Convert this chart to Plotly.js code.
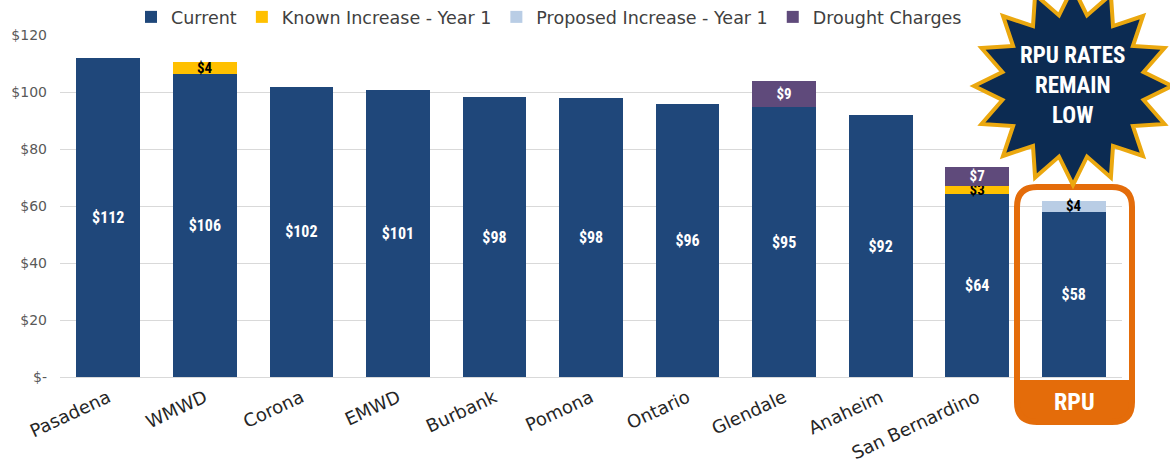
<!DOCTYPE html>
<html>
<head>
<meta charset="utf-8">
<script src="https://cdn.plot.ly/plotly-3.0.1.min.js"></script>
<style>
html,body{margin:0;padding:0;background:#fff;}
#chart{width:1170px;height:469px;}
</style>
</head>
<body>
<div id="chart"></div>
<script>
// ---- data ----
const categories = ["Pasadena","WMWD","Corona","EMWD","Burbank","Pomona","Ontario","Glendale","Anaheim","San Bernardino","RPU"];
const tickLabels = ["Pasadena","WMWD","Corona","EMWD","Burbank","Pomona","Ontario","Glendale","Anaheim","San Bernardino",""];
const current   = [112.0,106.4,101.8,100.7,98.2,97.9,95.8,94.6,91.9,64.2,57.9];
const knownInc  = [0,4.2,0,0,0,0,0,0,0,2.8,0];
const proposed  = [0,0,0,0,0,0,0,0,0,0,3.9];
const drought   = [0,0,0,0,0,0,0,9.3,0,6.8,0];
const yTickVals = [0,20,40,60,80,100,120];
const yTickText = ["$-","$20","$40","$60","$80","$100","$120"];

// ---- layout constants ----
const W = 1170, H = 469;
const M = {l:60, r:48, t:35, b:92, autoexpand:false};
const PW = W - M.l - M.r, PH = H - M.t - M.b;
const px2paperX = x => (x - M.l) / PW;
const px2paperY = y => (H - M.b - y) / PH;

const labelFont = "'Liberation Sans Narrow', 'Roboto Condensed', 'Liberation Sans', sans-serif";
const bodyFont = "'DejaVu Sans', 'Noto Sans', sans-serif";

function txt(arr){ return arr.map(v => v > 0 ? "$" + Math.round(v) : ""); }

function barTrace(name, vals, color, fontColor, size){
  return {
    type: "bar", name: name, x: categories, y: vals,
    marker: {color: color},
    text: txt(vals), textposition: "inside", insidetextanchor: "middle",
    textangle: 0, constraintext: "none", cliponaxis: false,
    textfont: {family: labelFont, size: size, color: fontColor, weight: "bold"},
    hoverinfo: "skip"
  };
}

const traces = [
  barTrace("Current", current, "#1F477A", "#ffffff", 16),
  barTrace("Known Increase - Year 1", knownInc, "#FFC000", "#000000", 15),
  barTrace("Proposed Increase - Year 1", proposed, "#B9CDE5", "#000000", 15),
  barTrace("Drought Charges", drought, "#5F4A7B", "#ffffff", 15)
];

// starburst path (pixel coordinates relative to anchor)
function starPath(n, R, r){
  let p = "";
  for(let i = 0; i < 2*n; i++){
    const ang = Math.PI/2 + i * Math.PI / n;
    const rad = (i % 2 === 0) ? R : r;
    const x = rad * Math.cos(ang), y = rad * Math.sin(ang);
    p += (i === 0 ? "M" : "L") + x.toFixed(1) + "," + y.toFixed(1) + " ";
  }
  return p + "Z";
}
function roundRect(hw, hh, rr){
  return `M${-hw+rr},${hh} L${hw-rr},${hh} Q${hw},${hh} ${hw},${hh-rr} L${hw},${-hh+rr} Q${hw},${-hh} ${hw-rr},${-hh} L${-hw+rr},${-hh} Q${-hw},${-hh} ${-hw},${-hh+rr} L${-hw},${hh-rr} Q${-hw},${hh} ${-hw+rr},${hh} Z`;
}
function bandPath(hw, hh, rr, topY){
  return `M${-hw},${topY} L${hw},${topY} L${hw},${-hh+rr} Q${hw},${-hh} ${hw-rr},${-hh} L${-hw+rr},${-hh} Q${-hw},${-hh} ${-hw},${-hh+rr} Z`;
}

const boxCx = 1074.5, boxCy = 304.5, boxHW = 57.5, boxHH = 117.5;
const starCx = 1073, starCy = 86;

const layout = {
  width: W, height: H,
  margin: M,
  paper_bgcolor: "#ffffff", plot_bgcolor: "#ffffff",
  barmode: "stack", bargap: 0.34,
  font: {family: bodyFont, color: "#404040"},
  showlegend: true,
  legend: {
    orientation: "h", x: px2paperX(549), xanchor: "center",
    y: px2paperY(17), yanchor: "middle",
    font: {family: bodyFont, size: 17.5, color: "#404040"},
    traceorder: "normal", itemwidth: 30, bgcolor: "rgba(0,0,0,0)"
  },
  xaxis: {
    type: "category", tickangle: -25,
    tickvals: categories, ticktext: tickLabels,
    tickfont: {family: bodyFont, size: 18, color: "#262626"},
    showgrid: false, showline: false, ticks: "", zeroline: false,
    ticklabelstandoff: 6
  },
  yaxis: {
    range: [0, 120], tickvals: yTickVals, ticktext: yTickText,
    tickfont: {family: bodyFont, size: 14, color: "#595959"},
    showgrid: true, gridcolor: "#D9D9D9", gridwidth: 1,
    zeroline: true, zerolinecolor: "#D9D9D9", showline: false, ticks: "",
    ticklabelstandoff: 12
  },
  shapes: [
    {type: "path", xref: "paper", yref: "paper", layer: "above",
     xsizemode: "pixel", ysizemode: "pixel",
     xanchor: px2paperX(boxCx), yanchor: px2paperY(boxCy),
     path: bandPath(boxHW, boxHH, 20, -75.5),
     fillcolor: "#E46C0A", line: {width: 0}},
    {type: "path", xref: "paper", yref: "paper", layer: "above",
     xsizemode: "pixel", ysizemode: "pixel",
     xanchor: px2paperX(boxCx), yanchor: px2paperY(boxCy),
     path: roundRect(boxHW, boxHH, 20),
     fillcolor: "rgba(0,0,0,0)", line: {color: "#E46C0A", width: 6}},
    {type: "path", xref: "paper", yref: "paper", layer: "above",
     xsizemode: "pixel", ysizemode: "pixel",
     xanchor: px2paperX(starCx), yanchor: px2paperY(starCy),
     path: starPath(16, 99, 72),
     fillcolor: "#0C2B52", line: {color: "#EBA80F", width: 4}}
  ],
  annotations: [
    {xref: "paper", yref: "paper", x: px2paperX(boxCx), y: px2paperY(402),
     text: "RPU", showarrow: false, xanchor: "center", yanchor: "middle",
     font: {family: labelFont, size: 24, color: "#ffffff", weight: "bold"}},
    {xref: "paper", yref: "paper", x: px2paperX(starCx), y: px2paperY(85),
     text: "RPU RATES<br>REMAIN<br>LOW", showarrow: false,
     xanchor: "center", yanchor: "middle", align: "center",
     font: {family: labelFont, size: 23, color: "#ffffff", weight: "bold"}}
  ]
};

Plotly.newPlot("chart", traces, layout, {staticPlot: true, displayModeBar: false});
</script>
</body>
</html>
